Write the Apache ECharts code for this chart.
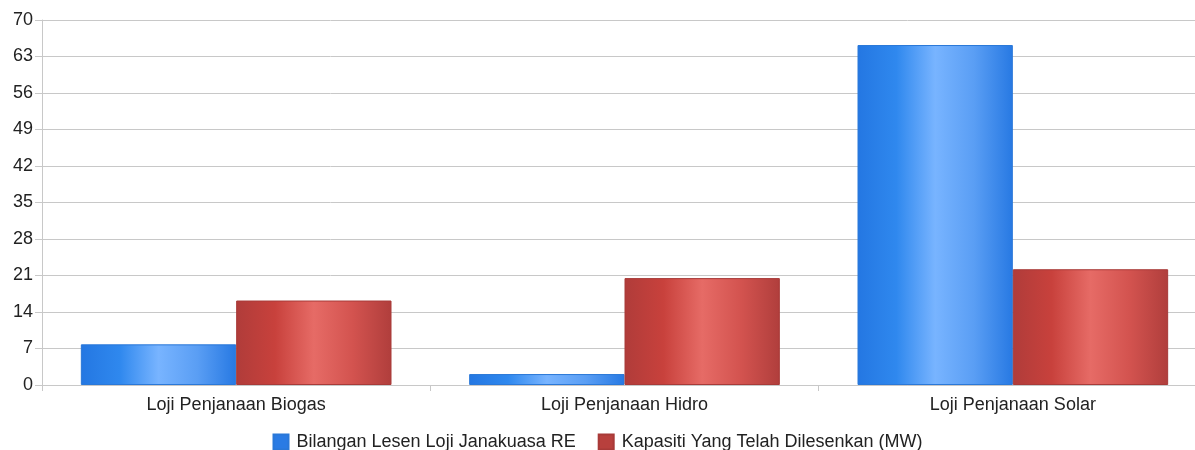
<!DOCTYPE html>
<html>
<head>
<meta charset="utf-8">
<script src="https://cdn.jsdelivr.net/npm/echarts@6/dist/echarts.min.js"></script>
<style>
  html, body { margin: 0; padding: 0; background: #fff; }
  #chart { width: 1195px; height: 450px; }
</style>
</head>
<body>
<div id="chart"></div>
<script>
const categories = ['Loji Penjanaan Biogas', 'Loji Penjanaan Hidro', 'Loji Penjanaan Solar'];
const seriesNames = ['Bilangan Lesen Loji Janakuasa RE', 'Kapasiti Yang Telah Dilesenkan (MW)'];
const licenceCount = [7.8, 2.1, 65.2];
const capacityMW = [16.2, 20.5, 22.2];

// silinder: gelap di tepi, terang di tengah
const blueFill = new echarts.graphic.LinearGradient(0, 0, 1, 0, [
  { offset: 0, color: '#2477e2' },
  { offset: 0.25, color: '#2f88ee' },
  { offset: 0.5, color: '#78b4ff' },
  { offset: 0.75, color: '#5a9ef4' },
  { offset: 1, color: '#2779e3' },
]);
const redFill = new echarts.graphic.LinearGradient(0, 0, 1, 0, [
  { offset: 0, color: '#b03c3a' },
  { offset: 0.25, color: '#c8413c' },
  { offset: 0.5, color: '#e66b66' },
  { offset: 0.75, color: '#d3534f' },
  { offset: 1, color: '#b03e3c' },
]);

const chart = echarts.init(document.getElementById('chart'));
chart.setOption({
  animation: false,
  textStyle: { fontFamily: 'Liberation Sans, Arial, sans-serif' },
  grid: { left: 42, width: 1165, top: 20, bottom: 65, outerBoundsMode: 'none' },
  legend: {
    top: 428,
    itemWidth: 15,
    itemHeight: 15,
    itemGap: 22,
    icon: 'rect',
    textStyle: { fontSize: 18, color: '#222', padding: [0, 0, 0, 3] },
    data: [
      { name: seriesNames[0], itemStyle: { color: '#2a7be4' } },
      { name: seriesNames[1], itemStyle: { color: '#b8403d' } },
    ],
  },
  xAxis: {
    type: 'category',
    data: categories,
    axisLine: { lineStyle: { color: '#c8c8c8' } },
    axisTick: { show: true, length: 6, lineStyle: { color: '#c8c8c8' } },
    axisLabel: { fontSize: 18, color: '#222', margin: 11 },
  },
  yAxis: {
    type: 'value',
    min: 0,
    max: 70,
    interval: 7,
    axisLine: { show: true, lineStyle: { color: '#c8c8c8' } },
    axisTick: { show: true, length: 7, lineStyle: { color: '#c8c8c8' } },
    axisLabel: { fontSize: 18, color: '#222', margin: 9 },
    splitLine: { lineStyle: { color: '#c8c8c8' } },
  },
  series: [
    {
      name: seriesNames[0],
      type: 'bar',
      data: licenceCount,
      barGap: '0%',
      barCategoryGap: '20%',
      itemStyle: { color: blueFill, borderColor: '#2a78d8', borderWidth: 1 },
    },
    {
      name: seriesNames[1],
      type: 'bar',
      data: capacityMW,
      barGap: '0%',
      barCategoryGap: '20%',
      itemStyle: { color: redFill, borderColor: '#a83a38', borderWidth: 1 },
    },
  ],
});
</script>
</body>
</html>
